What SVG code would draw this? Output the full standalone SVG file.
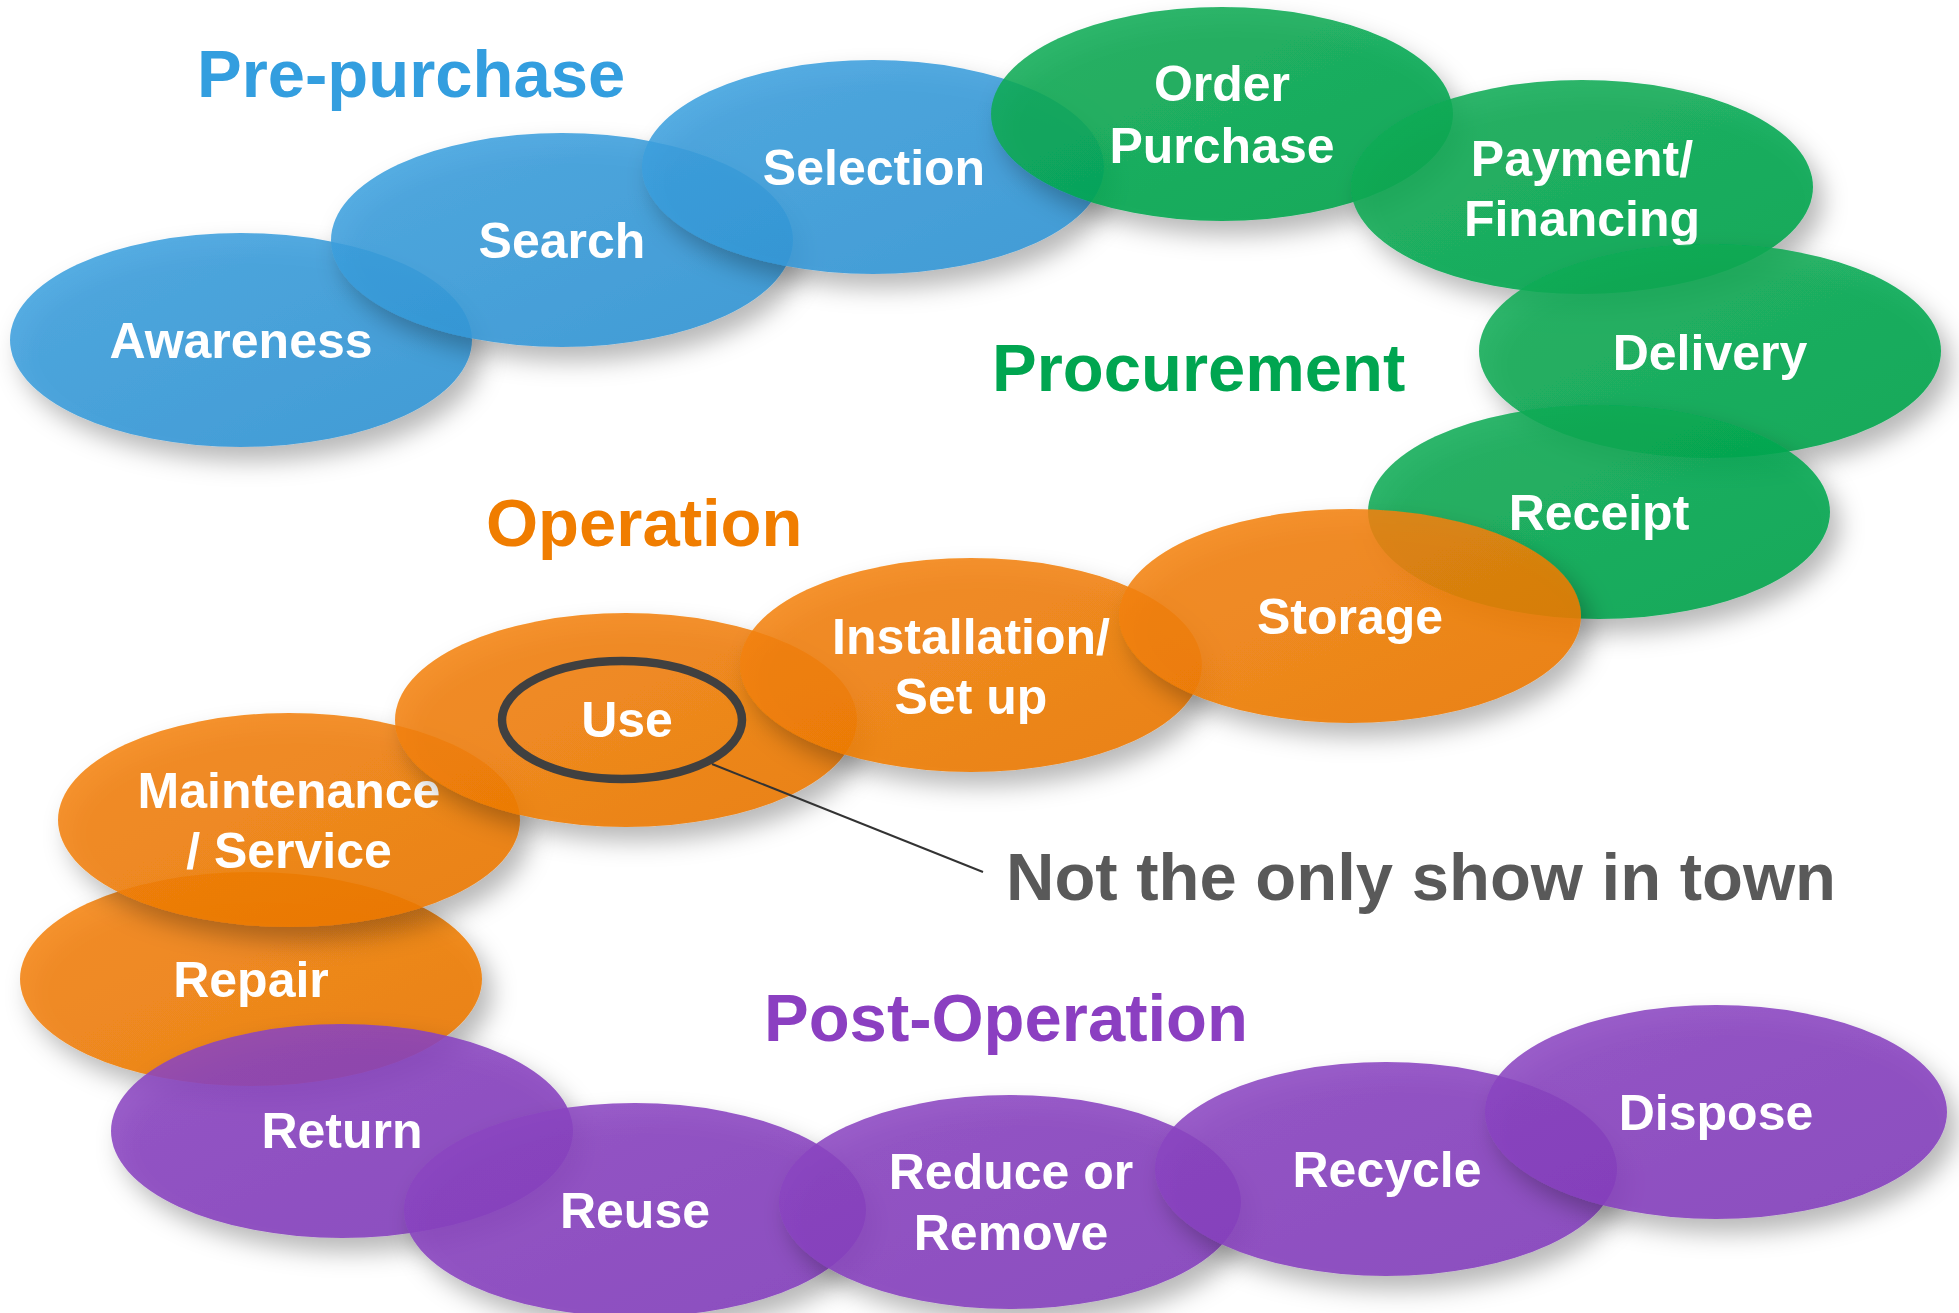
<svg xmlns="http://www.w3.org/2000/svg" width="1959" height="1313" viewBox="0 0 1959 1313">
  <defs>
    <filter id="shadow" x="-20%" y="-30%" width="150%" height="170%">
      <feDropShadow dx="10" dy="14" stdDeviation="12" flood-color="#000" flood-opacity="0.32"/>
    </filter>
    <linearGradient id="gBlue" x1="0" y1="0" x2="1" y2="1">
      <stop offset="0" stop-color="#3FA2DF"/>
      <stop offset="1" stop-color="#2E93D4"/>
    </linearGradient>
    <linearGradient id="gGreen" x1="0" y1="0" x2="1" y2="1">
      <stop offset="0" stop-color="#0CAC56"/>
      <stop offset="1" stop-color="#02A34B"/>
    </linearGradient>
    <linearGradient id="gOrange" x1="0" y1="0" x2="1" y2="1">
      <stop offset="0" stop-color="#F4840C"/>
      <stop offset="1" stop-color="#EC7703"/>
    </linearGradient>
    <linearGradient id="gPurple" x1="0" y1="0" x2="1" y2="1">
      <stop offset="0" stop-color="#8C46C2"/>
      <stop offset="1" stop-color="#823CBB"/>
    </linearGradient>
    <style>
      .stage { filter: url(#shadow); fill-opacity: 0.87; }
      .blue { fill: url(#gBlue); }
      .green { fill: url(#gGreen); }
      .orange { fill: url(#gOrange); }
      .purple { fill: url(#gPurple); }
      .lbl { font-family: "Liberation Sans", Arial, sans-serif; font-weight: bold; font-size: 50px; fill: #FFFFFF; text-anchor: middle; }
      .title { font-family: "Liberation Sans", Arial, sans-serif; font-weight: bold; font-size: 67px; }
      .note { font-family: "Liberation Sans", Arial, sans-serif; font-weight: bold; font-size: 67px; fill: #595959; }
      .ring { fill: none; stroke: #404040; stroke-width: 8.5; }
      .leader { stroke: #333333; stroke-width: 2; fill: none; }
    </style>
  </defs>

  <rect width="1959" height="1313" fill="#FFFFFF"/>

  <!-- Phase titles -->
  <text class="title" x="197" y="97" fill="#339EDF">Pre-purchase</text>
  <text class="title" x="992" y="391" fill="#00A550">Procurement</text>
  <text class="title" x="486" y="546" fill="#F07D00">Operation</text>
  <text class="title" x="764" y="1041" fill="#8B3FC1">Post-Operation</text>

  <!-- Pre-purchase stages -->
  <g id="awareness">
    <ellipse class="stage blue" cx="241" cy="340" rx="231" ry="107"/>
    <text class="lbl" x="241" y="358">Awareness</text>
  </g>
  <g id="search">
    <ellipse class="stage blue" cx="562" cy="240" rx="231" ry="107"/>
    <text class="lbl" x="562" y="258">Search</text>
  </g>
  <g id="selection">
    <ellipse class="stage blue" cx="873" cy="167" rx="231" ry="107"/>
    <text class="lbl" x="874" y="185">Selection</text>
  </g>

  <!-- Procurement stages -->
  <g id="order-purchase">
    <ellipse class="stage green" cx="1222" cy="114" rx="231" ry="107"/>
    <text class="lbl" x="1222" y="101">Order</text>
    <text class="lbl" x="1222" y="163">Purchase</text>
  </g>
  <g id="payment-financing">
    <ellipse class="stage green" cx="1582" cy="187" rx="231" ry="107"/>
    <text class="lbl" x="1582" y="176">Payment/</text>
    <text class="lbl" x="1582" y="236">Financing</text>
  </g>
  <g id="delivery">
    <ellipse class="stage green" cx="1710" cy="351" rx="231" ry="107"/>
    <text class="lbl" x="1710" y="370">Delivery</text>
  </g>
  <g id="receipt">
    <ellipse class="stage green" cx="1599" cy="512" rx="231" ry="107"/>
    <text class="lbl" x="1599" y="530">Receipt</text>
  </g>

  <!-- Operation stages -->
  <g id="repair">
    <ellipse class="stage orange" cx="251" cy="979" rx="231" ry="107"/>
    <text class="lbl" x="251" y="997">Repair</text>
  </g>
  <g id="maintenance-service">
    <ellipse class="stage orange" cx="289" cy="820" rx="231" ry="107"/>
    <text class="lbl" x="289" y="808">Maintenance</text>
    <text class="lbl" x="289" y="868">/ Service</text>
  </g>
  <g id="use">
    <ellipse class="stage orange" cx="626" cy="720" rx="231" ry="107"/>
    <ellipse class="ring" cx="622" cy="720" rx="120" ry="59"/>
    <text class="lbl" x="627" y="737">Use</text>
  </g>
  <g id="installation-setup">
    <ellipse class="stage orange" cx="971" cy="665" rx="231" ry="107"/>
    <text class="lbl" x="971" y="654">Installation/</text>
    <text class="lbl" x="971" y="714">Set up</text>
  </g>
  <g id="storage">
    <ellipse class="stage orange" cx="1350" cy="616" rx="231" ry="107"/>
    <text class="lbl" x="1350" y="634">Storage</text>
  </g>

  <!-- Post-operation stages -->
  <g id="return">
    <ellipse class="stage purple" cx="342" cy="1131" rx="231" ry="107"/>
    <text class="lbl" x="342" y="1148">Return</text>
  </g>
  <g id="reuse">
    <ellipse class="stage purple" cx="635" cy="1210" rx="231" ry="107"/>
    <text class="lbl" x="635" y="1228">Reuse</text>
  </g>
  <g id="reduce-remove">
    <ellipse class="stage purple" cx="1010" cy="1202" rx="231" ry="107"/>
    <text class="lbl" x="1011" y="1189">Reduce or</text>
    <text class="lbl" x="1011" y="1250">Remove</text>
  </g>
  <g id="recycle">
    <ellipse class="stage purple" cx="1386" cy="1169" rx="231" ry="107"/>
    <text class="lbl" x="1387" y="1187">Recycle</text>
  </g>
  <g id="dispose">
    <ellipse class="stage purple" cx="1716" cy="1112" rx="231" ry="107"/>
    <text class="lbl" x="1716" y="1130">Dispose</text>
  </g>

  <!-- Callout leader from the Use ring -->
  <g id="connectors">
    <line class="leader" x1="712" y1="764" x2="983" y2="872"/>
  </g>
  <text class="note" x="1006" y="900">Not the only show in town</text>
</svg>
